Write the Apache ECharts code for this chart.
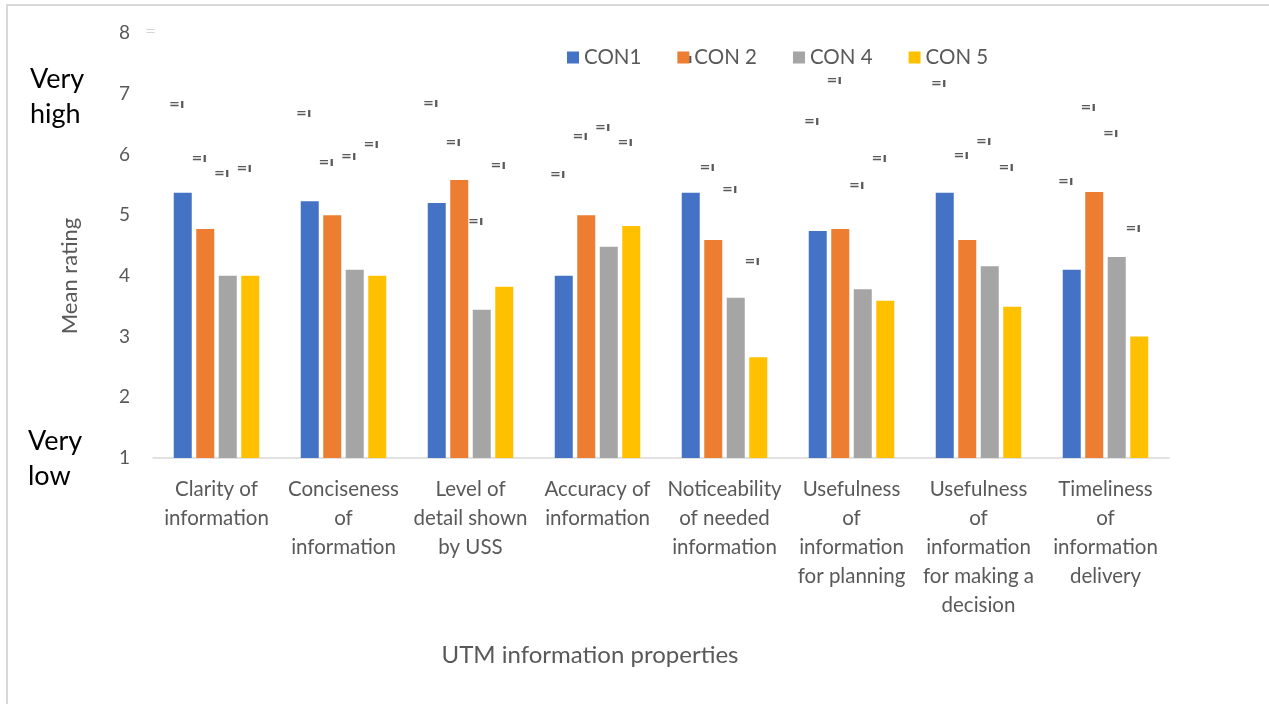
<!DOCTYPE html>
<html>
<head>
<meta charset="utf-8">
<script src="https://cdn.jsdelivr.net/npm/echarts@6/dist/echarts.min.js"></script>
<style>
  html, body { margin: 0; padding: 0; background: #fff; }
  #chart { width: 1269px; height: 704px; }
</style>
</head>
<body>
<div id="chart"></div>
<script>
// categories (line breaks as in the original tick labels)
const categories = [
  'Clarity of\ninformation',
  'Conciseness\nof\ninformation',
  'Level of\ndetail shown\nby USS',
  'Accuracy of\ninformation',
  'Noticeability\nof needed\ninformation',
  'Usefulness\nof\ninformation\nfor planning',
  'Usefulness\nof\ninformation\nfor making a\ndecision',
  'Timeliness\nof\ninformation\ndelivery'
]
const seriesNames = ['CON1', 'CON 2', 'CON 4', 'CON 5']
const colors = ['#4472c4', '#ed7d31', '#a5a5a5', '#ffc000']

// mean ratings
const con1 = [5.37, 5.23, 5.2, 4.0, 5.37, 4.74, 5.37, 4.1]
const con2 = [4.77, 5.0, 5.58, 5.0, 4.59, 4.77, 4.59, 5.38]
const con4 = [4.0, 4.1, 3.44, 4.48, 3.64, 3.78, 4.16, 4.31]
const con5 = [4.0, 4.0, 3.82, 4.82, 2.66, 3.59, 3.49, 3.0]

// heights of the small annotation marks above each bar
const mark1 = [6.82, 6.68, 6.83, 5.66, 7.56, 6.54, 7.16, 5.55]
const mark2 = [5.93, 5.86, 6.19, 6.29, 5.78, 7.21, 5.98, 6.77]
const mark4 = [5.68, 5.96, 4.9, 6.44, 5.42, 5.48, 6.21, 6.34]
const mark5 = [5.76, 6.16, 5.81, 6.19, 4.23, 5.93, 5.79, 4.77]

const yTicks = [1, 2, 3, 4, 5, 6, 7, 8]

const values = [con1, con2, con4, con5]
const marks = [mark1, mark2, mark4, mark5]

const FONT = 'Lato'
const GREY = '#595959'

const chart = echarts.init(document.getElementById('chart'))

const series = []
values.forEach((vals, i) => {
  series.push({
    name: seriesNames[i],
    type: 'bar',
    stack: 's' + i,
    barWidth: 18,
    barGap: '25%',
    data: vals,
    itemStyle: { color: colors[i] }
  })
})
// invisible stacked segments whose top carries the annotation glyph
marks.forEach((m, i) => {
  series.push({
    name: 'mark' + i,
    type: 'bar',
    stack: 's' + i,
    barWidth: 18,
    barGap: '25%',
    data: m.map((v, k) => +(v - values[i][k]).toFixed(2)),
    itemStyle: { color: 'rgba(0,0,0,0)' },
    silent: true,
    label: {
      show: true,
      position: 'top',
      distance: 0,
      offset: [-6, 8],
      formatter: '=ı',
      fontFamily: 'DejaVu Sans',
      fontSize: 13,
      fontWeight: 'bold',
      lineHeight: 16,
      color: GREY
    }
  })
})

const option = {
  animation: false,
  textStyle: { fontFamily: FONT },
  legend: {
    data: seriesNames,
    left: 562,
    top: 42,
    icon: 'rect',
    itemWidth: 12,
    itemHeight: 12,
    itemGap: 36,
    textStyle: { fontSize: 20.5, color: GREY, fontFamily: FONT }
  },
  grid: {
    left: 153,
    right: 100,
    top: 33,
    bottom: 246
  },
  xAxis: {
    type: 'category',
    data: categories,
    axisLine: { lineStyle: { color: '#d9d9d9', width: 1.5 } },
    axisTick: { show: false },
    axisLabel: {
      interval: 0,
      margin: 17,
      fontSize: 20.5,
      lineHeight: 29,
      color: GREY,
      fontFamily: FONT
    }
  },
  yAxis: {
    type: 'value',
    min: yTicks[0],
    max: yTicks[yTicks.length - 1],
    interval: 1,
    axisLine: { show: false },
    axisTick: { show: false },
    splitLine: { show: false },
    axisLabel: {
      margin: 23,
      fontSize: 19,
      color: GREY,
      fontFamily: FONT
    }
  },
  graphic: [
    {
      type: 'rect',
      shape: { x: 7, y: 5, width: 1400, height: 800 },
      style: { fill: 'none', stroke: '#d9d9d9', lineWidth: 2 },
      silent: true
    },
    {
      type: 'text',
      left: 145,
      top: 25,
      style: { text: '=', fontSize: 13, fill: '#d4d4d4', fontFamily: 'DejaVu Sans' }
    },
    {
      type: 'text',
      left: 30,
      top: 62,
      style: { text: 'Very\nhigh', fontSize: 27, lineHeight: 35, fill: '#000', fontFamily: FONT }
    },
    {
      type: 'text',
      left: 28,
      top: 424,
      style: { text: 'Very\nlow', fontSize: 27, lineHeight: 35, fill: '#000', fontFamily: FONT }
    },
    {
      type: 'text',
      x: 70,
      y: 276,
      rotation: Math.PI / 2,
      style: {
        text: 'Mean rating',
        fontSize: 22,
        fill: GREY,
        fontFamily: FONT,
        align: 'center',
        verticalAlign: 'middle'
      }
    },
    {
      type: 'text',
      x: 590,
      y: 655,
      style: {
        text: 'UTM information properties',
        fontSize: 24,
        fill: GREY,
        fontFamily: FONT,
        align: 'center',
        verticalAlign: 'middle'
      }
    }
  ],
  series: series
}

chart.setOption(option)
</script>
</body>
</html>
